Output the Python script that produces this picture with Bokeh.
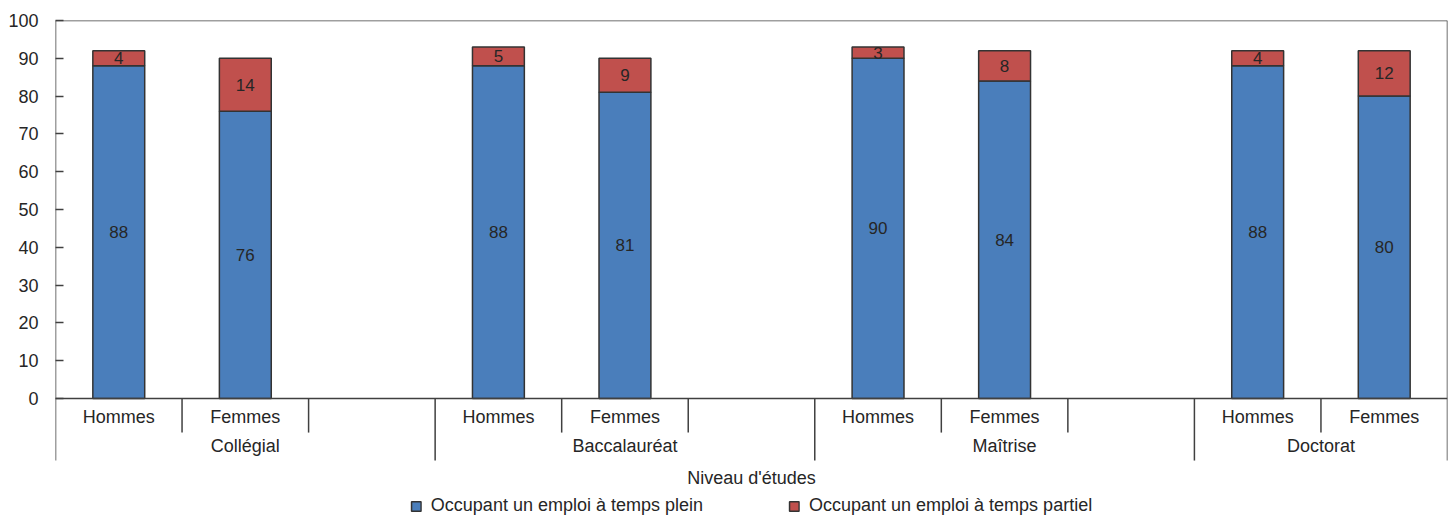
from bokeh.plotting import figure
from bokeh.models import FactorRange, Range1d, FixedTicker, Span, Legend, LegendItem, ColumnDataSource
from bokeh.core.properties import value
from bokeh.embed import file_html
from bokeh.resources import INLINE

# ---- data ----
levels = ["Collégial", "Baccalauréat", "Maîtrise", "Doctorat"]
sexes = ["Hommes", "Femmes"]
full_time = [88, 76, 88, 81, 90, 84, 88, 80]
part_time = [4, 14, 5, 9, 3, 8, 4, 12]
series_names = ["Occupant un emploi à temps plein", "Occupant un emploi à temps partiel"]
y_ticks = list(range(0, 101, 10))
axis_title = "Niveau d'études"

# ---- styles ----
FONT = "Liberation Sans"
BLUE = "#4A7EBB"
RED = "#C0504D"
TXT = "#262626"
LINE = "#404040"

# factors: each level gets Hommes, Femmes and an empty slot (except the last)
factors = []
for i, lvl in enumerate(levels):
    for s in sexes:
        factors.append((lvl, s))
    if i < len(levels) - 1:
        factors.append((lvl, ""))

bar_x = [(lvl, s) for lvl in levels for s in sexes]
part_top = [f + p for f, p in zip(full_time, part_time)]

src = ColumnDataSource(dict(
    x=bar_x, full=full_time, part=part_time, ptop=part_top,
    full_mid=[f / 2 for f in full_time],
    part_mid=[f + p / 2 for f, p in zip(full_time, part_time)],
    full_lbl=[str(v) for v in full_time],
    part_lbl=[str(v) for v in part_time],
))

Y_BOTTOM = -31.2
LONG_SEP = -16.4
SHORT_SEP = -9.0
SUB_Y = -4.76
GROUP_Y = -12.43
TITLE_Y = -20.9

p = figure(width=1452, height=516, output_backend="svg", toolbar_location=None,
           x_range=FactorRange(factors=factors, factor_padding=0, group_padding=0,
                               subgroup_padding=0, range_padding=0),
           y_range=Range1d(Y_BOTTOM, 100),
           min_border_left=55, min_border_right=5, min_border_top=20, min_border_bottom=0)
p.xaxis.visible = False
p.xgrid.visible = False
p.ygrid.visible = False
p.outline_line_color = None
p.background_fill_color = "white"
p.border_fill_color = "white"

yax = p.yaxis[0]
yax.ticker = FixedTicker(ticks=y_ticks)
yax.minor_tick_line_color = None
yax.axis_line_color = None
yax.major_tick_in = 8
yax.major_tick_out = 0
yax.major_tick_line_color = LINE
yax.major_tick_line_width = 1.5
yax.major_label_standoff = 17
yax.major_label_text_font = FONT
yax.major_label_text_font_size = "18px"
yax.major_label_text_color = TXT

r_full = p.vbar(x="x", top="full", bottom=0, width=0.41, source=src,
                fill_color=BLUE, line_color="#333333", line_width=1.5)
r_part = p.vbar(x="x", top="ptop", bottom="full", width=0.41, source=src,
                fill_color=RED, line_color="#333333", line_width=1.5)

p.text(x="x", y="full_mid", text="full_lbl", source=src, text_align="center",
       text_baseline="middle", text_font=value(FONT), text_font_size="17px", text_color=TXT)
p.text(x="x", y="part_mid", text="part_lbl", source=src, text_align="center",
       text_baseline="middle", text_font=value(FONT), text_font_size="17px", text_color=TXT)

# frame lines
p.add_layout(Span(location=100, dimension="width", line_color=LINE, line_width=1.5))
p.add_layout(Span(location=0, dimension="width", line_color=LINE, line_width=1.5))

n = len(factors)
long_x = [0, n]
short_x = []
for k in range(1, n):
    if factors[k][0] != factors[k - 1][0]:
        long_x.append(k)
    else:
        short_x.append(k)
p.segment(x0=long_x, x1=long_x, y0=[LONG_SEP] * len(long_x),
          y1=[100 if x in (0, n) else 0 for x in long_x], line_color=LINE, line_width=1.5)
p.segment(x0=short_x, x1=short_x, y0=[SHORT_SEP] * len(short_x), y1=[0] * len(short_x),
          line_color=LINE, line_width=1.5)

# category labels
p.text(x=bar_x, y=[SUB_Y] * len(bar_x), text=[s for _, s in bar_x], text_align="center",
       text_baseline="middle", text_font=value(FONT), text_font_size="18px", text_color=TXT)
group_x = []
for lvl in levels:
    idx = [k for k, f in enumerate(factors) if f[0] == lvl]
    group_x.append((idx[0] + idx[-1] + 1) / 2)
p.text(x=group_x, y=[GROUP_Y] * len(levels), text=levels, text_align="center",
       text_baseline="middle", text_font=value(FONT), text_font_size="18px", text_color=TXT)
p.text(x=[n / 2], y=[TITLE_Y], text=[axis_title], text_align="center",
       text_baseline="middle", text_font=value(FONT), text_font_size="18px", text_color=TXT)

legend = Legend(items=[LegendItem(label=series_names[0], renderers=[r_full]),
                       LegendItem(label=series_names[1], renderers=[r_part])],
                location="bottom_center", orientation="horizontal",
                border_line_color=None, background_fill_alpha=0,
                label_text_font=FONT, label_text_font_size="18px", label_text_color=TXT,
                glyph_width=12, glyph_height=12, label_standoff=9, spacing=85,
                padding=0, margin=0, label_height=20)
p.add_layout(legend)

open("out.html", "w").write(file_html(p, INLINE))
